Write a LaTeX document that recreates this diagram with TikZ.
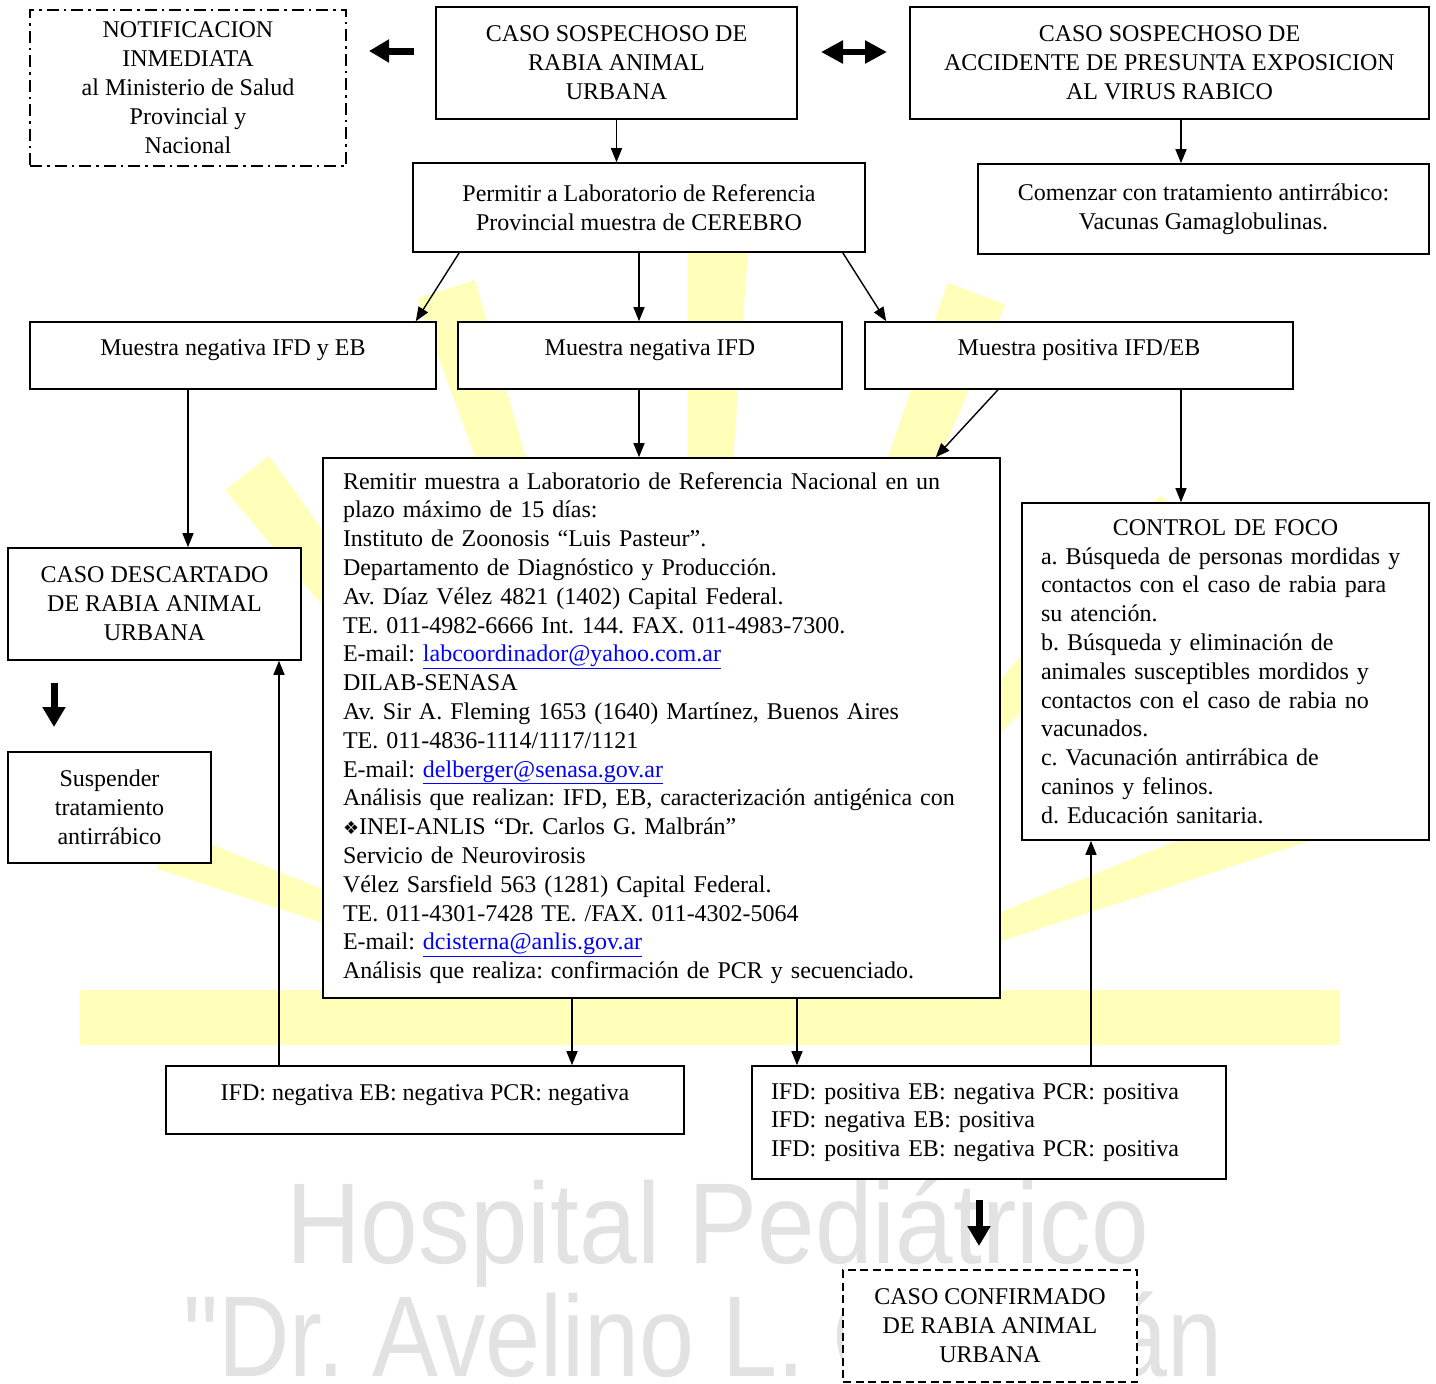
\documentclass[tikz,border=0pt]{standalone}
\usepackage{fontspec}
\setmainfont{Liberation Serif}
\newfontfamily\symfont{DejaVu Sans}
\newfontfamily\wmfont{Liberation Sans}
\usetikzlibrary{arrows.meta}
\definecolor{sun}{RGB}{255,255,185}
\definecolor{wmgray}{RGB}{226,226,226}
\definecolor{linkblue}{RGB}{0,0,255}
\newcommand{\lnk}[1]{{\color{linkblue}\underline{#1}}}
\frenchspacing
\begin{document}
\begin{tikzpicture}[x=1pt,y=-1pt,
  box/.style={draw, line width=1.6pt, fill=white, inner sep=0pt, align=center,
    font=\fontsize{24}{29}\selectfont},
  lbox/.style={box, align=left, font=\fontsize{24}{28.8}\selectfont},
  onel/.style={text height=18pt, text depth=18pt},
  dashdot/.style={dash pattern=on 12pt off 5pt on 2.5pt off 5pt},
  dashbox/.style={dash pattern=on 8pt off 4.5pt},
  arr/.style={line width=1.4pt, -{Triangle[length=14pt,width=11pt]}},
  fat/.style={line width=7pt, -{Triangle[length=20pt,width=22pt]}},
  fatboth/.style={line width=6pt, {Triangle[length=22pt,width=22pt]}-{Triangle[length=22pt,width=22pt]}},
  wm/.style={inner sep=0pt, text=wmgray, font=\wmfont\fontsize{115}{115}\selectfont}]
\useasboundingbox (0,0) rectangle (1436,1384);
\fill[white] (0,0) rectangle (1436,1384);

% watermark: sun rays
\begin{scope}[shift={(690,1040)}]
  \foreach \a/\r in {20/650, 47/720, 69/800, 88/790, 108/790, 128/720, 160/560}{
    \fill[sun] (-\a-3:120) -- (-\a-2.2:\r) -- (-\a+2.2:\r) -- (-\a+3:120) -- cycle;
  }
\end{scope}
\fill[sun] (80,990) rectangle (1340,1045);
% watermark: text
\node[wm, anchor=base west] (wma) at (286,1263) {\scalebox{0.9}[1]{Hospital Pediátrico}};
\node[wm, anchor=base west] (wmb) at (183,1376) {\scalebox{0.86}[1]{"Dr. Avelino L. Castelán}};

% boxes
\node[box, dashdot, minimum width=316pt, minimum height=156pt] (notif) at (188,88)
  {NOTIFICACION\\INMEDIATA\\al Ministerio de Salud\\Provincial y\\Nacional};
\node[box, minimum width=361pt, minimum height=112pt] (sosp) at (616.5,63)
  {CASO SOSPECHOSO DE\\RABIA ANIMAL\\URBANA};
\node[box, minimum width=519pt, minimum height=112pt] (acc) at (1169.5,63)
  {CASO SOSPECHOSO DE\\ACCIDENTE DE PRESUNTA EXPOSICION\\AL VIRUS RABICO};
\node[box, minimum width=452pt, minimum height=89pt] (perm) at (639,207.5)
  {Permitir a Laboratorio de Referencia\\Provincial muestra de CEREBRO};
\node[box, minimum width=451pt, minimum height=90pt] (comen) at (1203.5,209)
  {Comenzar con tratamiento antirrábico:\\Vacunas Gamaglobulinas.};
\node[box, onel, minimum width=406pt, minimum height=67pt] (m1) at (233,355.5)
  {Muestra negativa IFD y EB};
\node[box, onel, minimum width=384pt, minimum height=67pt] (m2) at (650,355.5)
  {Muestra negativa IFD};
\node[box, onel, minimum width=428pt, minimum height=67pt] (m3) at (1079,355.5)
  {Muestra positiva IFD/EB};
\node[lbox, text width=637pt, minimum width=677pt, minimum height=540pt] (rem) at (661.5,728)
  {Remitir muestra a Laboratorio de Referencia Nacional en un\\
   plazo máximo de 15 días:\\
   Instituto de Zoonosis “Luis Pasteur”.\\
   Departamento de Diagnóstico y Producción.\\
   Av. Díaz Vélez 4821 (1402) Capital Federal.\\
   TE. 011-4982-6666 Int. 144. FAX. 011-4983-7300.\\
   E-mail: \lnk{labcoordinador@yahoo.com.ar}\\
   DILAB-SENASA\\
   Av. Sir A. Fleming 1653 (1640) Martínez, Buenos Aires\\
   TE. 011-4836-1114/1117/1121\\
   E-mail: \lnk{delberger@senasa.gov.ar}\\
   Análisis que realizan: IFD, EB, caracterización antigénica con\\
   {\symfont\fontsize{18}{18}\selectfont ❖}INEI-ANLIS “Dr. Carlos G. Malbrán”\\
   Servicio de Neurovirosis\\
   Vélez Sarsfield 563 (1281) Capital Federal.\\
   TE. 011-4301-7428 TE. /FAX. 011-4302-5064\\
   E-mail: \lnk{dcisterna@anlis.gov.ar}\\
   Análisis que realiza: confirmación de PCR y secuenciado.};
\node[lbox, text width=369pt, minimum width=407pt, minimum height=337pt] (ctrl) at (1225.5,671.5)
  {\makebox[369pt][c]{CONTROL DE FOCO}\\
   a. Búsqueda de personas mordidas y\\
   contactos con el caso de rabia para\\
   su atención.\\
   b. Búsqueda y eliminación de\\
   animales susceptibles mordidos y\\
   contactos con el caso de rabia no\\
   vacunados.\\
   c. Vacunación antirrábica de\\
   caninos y felinos.\\
   d. Educación sanitaria.};
\node[box, minimum width=293pt, minimum height=112pt] (desc) at (154.5,604)
  {CASO DESCARTADO\\DE RABIA ANIMAL\\URBANA};
\node[box, minimum width=203pt, minimum height=111pt] (susp) at (109.5,807.5)
  {Suspender\\tratamiento\\antirrábico};
\node[box, onel, minimum width=518pt, minimum height=68pt] (ifdn) at (425,1100)
  {IFD: negativa EB: negativa PCR: negativa};
\node[lbox, text width=436pt, minimum width=474pt, minimum height=113pt] (ifdp) at (989,1122.5)
  {IFD: positiva EB: negativa PCR: positiva\\
   IFD: negativa EB: positiva\\
   IFD: positiva EB: negativa PCR: positiva};
\node[box, dashbox, minimum width=294pt, minimum height=112pt] (conf) at (990,1326)
  {CASO CONFIRMADO\\DE RABIA ANIMAL\\URBANA};

% thin connectors
\draw[arr] (sosp.south) -- (sosp.south |- perm.north);
\draw[arr] ([xshift=11.5pt]acc.south) -- ([xshift=11.5pt]acc.south |- comen.north);
\draw[arr] ([xshift=47pt]perm.south west) -- ([xshift=-21pt]m1.north east);
\draw[arr] (perm.south) -- (perm.south |- m2.north);
\draw[arr] ([xshift=-23pt]perm.south east) -- ([xshift=22pt]m3.north west);
\draw[arr] ([xshift=-45pt]m1.south) -- ([xshift=-45pt]m1.south |- desc.north);
\draw[arr] ([xshift=-11pt]m2.south) -- ([xshift=-11pt]m2.south |- rem.north);
\draw[arr] ([xshift=-81pt]m3.south) -- ([xshift=-65pt]rem.north east);
\draw[arr] ([xshift=102pt]m3.south) -- ([xshift=102pt]m3.south |- ctrl.north);
\draw[arr] ([xshift=-89.5pt]rem.south) -- ([xshift=-89.5pt]rem.south |- ifdn.north);
\draw[arr] ([xshift=135.5pt]rem.south) -- ([xshift=135.5pt]rem.south |- ifdp.north);
\draw[arr] ([xshift=-146pt]ifdn.north) -- ([xshift=-146pt]ifdn.north |- desc.south);
\draw[arr] ([xshift=102pt]ifdp.north) -- ([xshift=102pt]ifdp.north |- ctrl.south);

% fat arrows
\coordinate (fa1) at (414,51);
\coordinate (fa2) at (369,51);
\draw[fat] (fa1) -- (fa2);
\coordinate (fb1) at (821,52);
\coordinate (fb2) at (887,52);
\draw[fatboth] (fb1) -- (fb2);
\coordinate (fc1) at (54,683);
\coordinate (fc2) at (54,727);
\draw[fat] (fc1) -- (fc2);
\coordinate (fd1) at (979,1200);
\coordinate (fd2) at (979,1246);
\draw[fat] (fd1) -- (fd2);
\end{tikzpicture}
\end{document}
